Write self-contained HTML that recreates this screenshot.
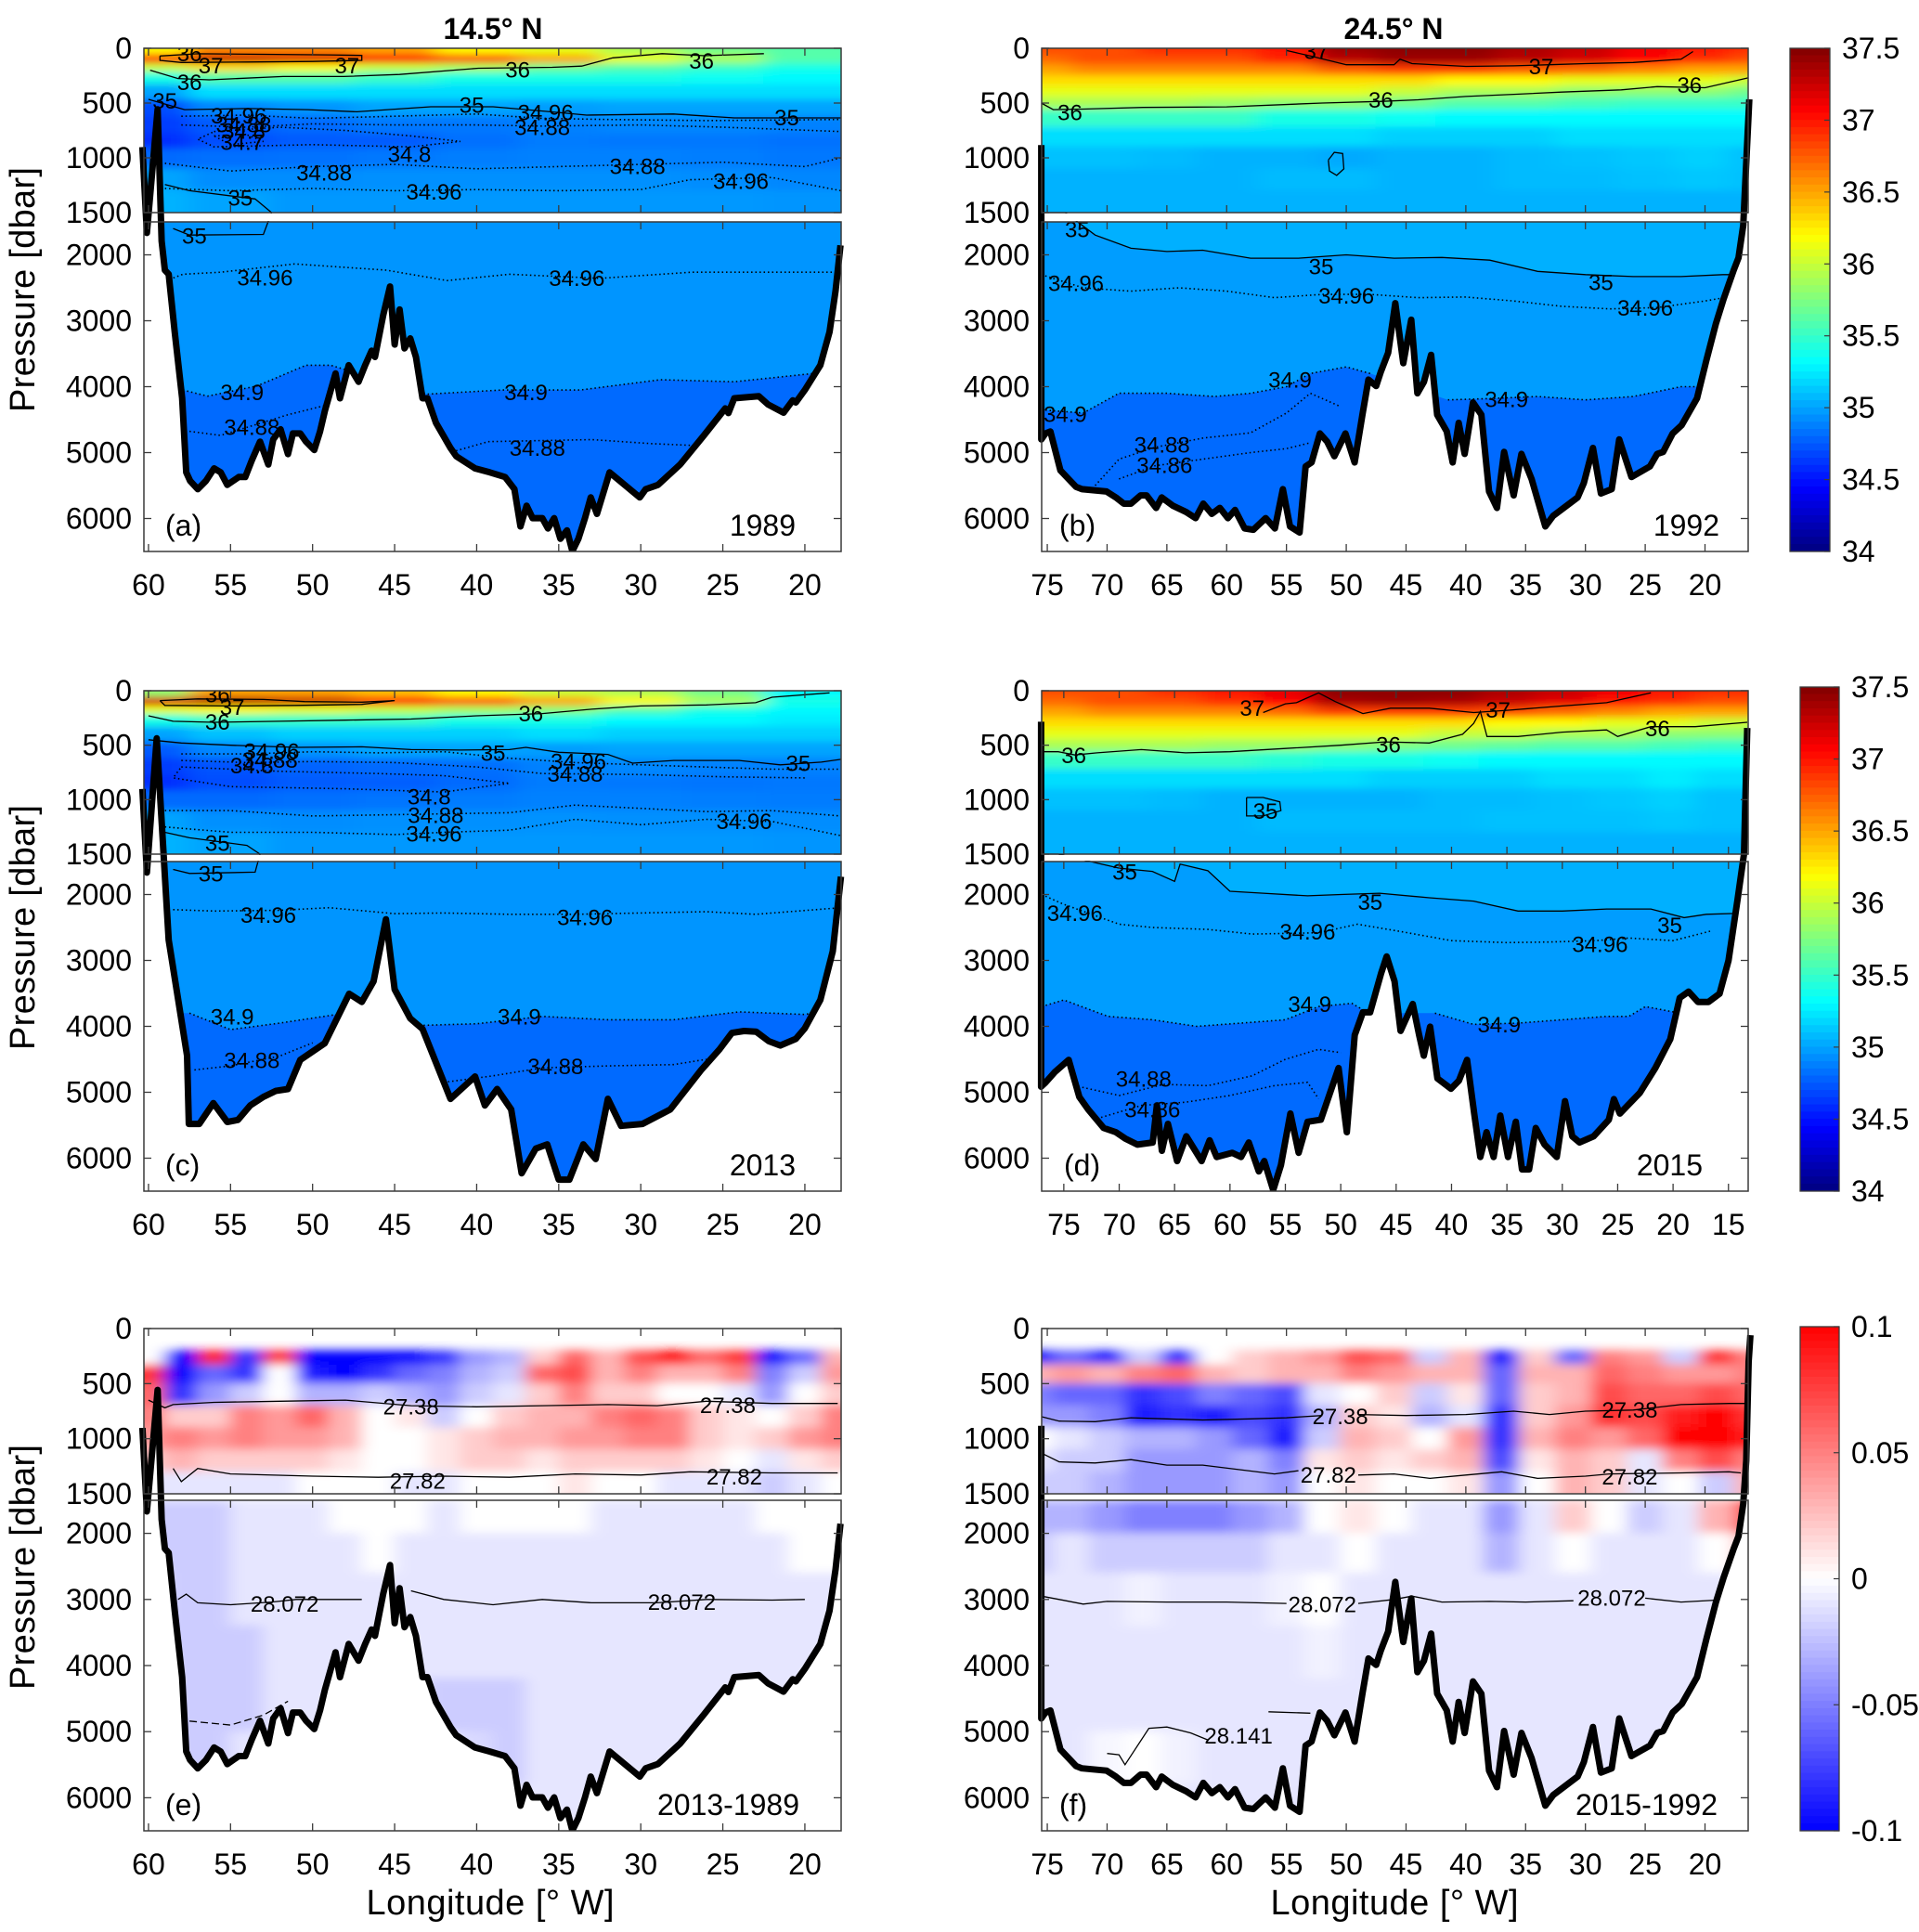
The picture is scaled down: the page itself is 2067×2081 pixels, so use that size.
<!DOCTYPE html>
<html><head><meta charset="utf-8">
<style>
html,body{margin:0;padding:0;background:#fff;}
svg{display:block;font-family:"Liberation Sans",Arial,sans-serif;}
</style></head>
<body>
<svg id="fig" xmlns="http://www.w3.org/2000/svg" width="2067" height="2081" viewBox="0 0 2067 2081">
<defs>
<filter id="blurS" x="-5%" y="-5%" width="110%" height="110%"><feGaussianBlur stdDeviation="12 4"/></filter>
<filter id="blurD" x="-5%" y="-5%" width="110%" height="110%"><feGaussianBlur stdDeviation="9 5"/></filter>
</defs>
<text x="531" y="42" font-size="32" font-weight="bold" text-anchor="middle">14.5° N</text>
<text x="1501" y="42" font-size="32" font-weight="bold" text-anchor="middle">24.5° N</text>
<text transform="translate(37,312) rotate(-90)" font-size="38" text-anchor="middle" textLength="264">Pressure [dbar]</text>
<text transform="translate(37,999) rotate(-90)" font-size="38" text-anchor="middle" textLength="264">Pressure [dbar]</text>
<text transform="translate(37,1688) rotate(-90)" font-size="38" text-anchor="middle" textLength="264">Pressure [dbar]</text>
<text x="528" y="2062" font-size="38" text-anchor="middle" textLength="267">Longitude [° W]</text>
<text x="1502" y="2062" font-size="38" text-anchor="middle" textLength="267">Longitude [° W]</text>
</svg>
<script>
// ---------------- DATA ----------------
const bathyA=[[60.37,902],[60.1,1668],[59.44,557],[59.2,1790],[59.0,2232],[58.77,2295],[58.4,3170],[57.95,4175],[57.7,5300],[57.46,5430],[57.0,5555],[56.5,5430],[56.0,5240],[55.6,5300],[55.2,5490],[54.5,5370],[54.1,5370],[53.7,5116],[53.2,4834],[52.7,5180],[52.4,4800],[51.95,4646],[51.5,5022],[51.2,4710],[50.75,4710],[50.4,4834],[49.9,4960],[49.55,4680],[49.25,4364],[48.6,3800],[48.33,4176],[47.8,3674],[47.2,3925],[46.8,3674],[46.4,3455],[46.2,3550],[45.7,2920],[45.28,2480],[45.0,3360],[44.7,2830],[44.4,3420],[44.05,3267],[43.7,3550],[43.3,4176],[43.0,4176],[42.48,4550],[41.6,4930],[41.25,5055],[40.1,5240],[39.2,5300],[38.27,5370],[37.7,5555],[37.33,6120],[36.96,5805],[36.59,5994],[36.0,5994],[35.66,6150],[35.28,5994],[34.9,6307],[34.5,6180],[34.17,6496],[33.8,6307],[33.4,5994],[33.05,5680],[32.67,5930],[31.9,5300],[30.06,5680],[29.7,5555],[28.95,5490],[27.6,5180],[26.15,4740],[24.85,4330],[24.66,4400],[24.3,4176],[22.8,4145],[22.24,4270],[21.3,4395],[20.74,4207],[20.55,4240],[20.0,4050],[19.06,3674],[18.5,3170],[18.13,2545],[17.83,1855]];
const bathyC=[[60.37,902],[60.1,1668],[59.5,437],[58.77,2690],[57.65,4445],[57.54,5480],[56.9,5480],[56.05,5165],[55.2,5450],[54.55,5420],[53.8,5200],[53.0,5070],[52.25,4980],[51.5,4950],[50.75,4510],[49.26,4257],[47.77,3505],[47.0,3630],[46.28,3317],[45.53,2376],[45.0,3440],[44.05,3880],[43.3,4040],[41.6,5100],[40.1,4760],[39.5,5200],[38.75,4950],[37.9,5260],[37.26,6230],[36.4,5855],[35.7,5790],[35.0,6326],[34.35,6326],[33.5,5790],[32.75,6013],[32.0,5100],[31.2,5510],[29.9,5480],[28.2,5260],[26.33,4665],[25.2,4350],[24.45,4100],[23.7,4070],[22.97,4080],[22.2,4225],[21.5,4290],[20.55,4190],[20.0,4030],[19.06,3600],[18.3,2860],[17.8,1730]];
const bathyB=[[75.5,883],[75.5,4800],[75.15,4710],[74.74,4680],[73.9,5270],[72.6,5520],[72.1,5555],[70.04,5590],[69.27,5680],[68.6,5775],[68.0,5775],[67.2,5650],[66.7,5650],[65.9,5840],[65.43,5680],[64.5,5805],[63.4,5900],[62.6,5994],[61.95,5775],[61.24,5930],[60.57,5840],[59.9,5994],[59.3,5870],[58.5,6150],[57.76,6170],[56.74,5994],[55.97,6150],[55.3,5555],[54.7,6120],[53.9,6213],[53.4,5210],[52.9,5150],[52.2,4710],[51.6,4834],[50.99,5055],[50.07,4710],[49.3,5150],[48.65,4426],[48.14,3893],[47.5,3990],[47.1,3770],[46.5,3486],[45.9,2734],[45.23,3643],[44.56,2985],[44.05,4100],[43.5,3925],[42.9,3517],[42.4,4426],[41.6,4677],[41.1,5150],[40.6,4550],[40.1,5020],[39.4,4240],[38.7,4426],[38.06,5590],[37.4,5840],[36.8,4990],[36.0,5650],[35.35,5020],[34.5,5400],[33.35,6120],[32.7,5960],[30.65,5680],[30.13,5460],[29.37,4930],[28.7,5620],[27.8,5555],[27.17,4800],[26.15,5370],[24.6,5210],[24.0,5020],[23.5,4990],[22.7,4710],[21.95,4583],[20.67,4176],[19.9,3610],[19.1,3050],[18.45,2670],[17.6,2232],[17.2,2044],[16.8,1550],[16.3,466]];
const bathyD=[[77.05,285],[77.05,4915],[76.66,4853],[75.83,4696],[74.56,4508],[73.6,5072],[72.8,5260],[71.4,5542],[70.3,5605],[69.47,5700],[68.36,5794],[66.98,5762],[66.6,5198],[66.15,5887],[65.6,5480],[64.77,6044],[63.94,5668],[62.56,6044],[61.84,5730],[61.2,5981],[59.8,5919],[59.0,5981],[58.3,5762],[57.4,6200],[56.9,6044],[56.1,6483],[55.4,6107],[54.55,5323],[53.8,5919],[53.0,5448],[51.8,5417],[50.2,4633],[49.45,5605],[48.74,4132],[48.0,3787],[47.35,3787],[46.35,3191],[45.86,2940],[45.14,3317],[44.6,4069],[43.5,3661],[42.92,4132],[42.5,4445],[41.93,4006],[41.27,4790],[40.05,4947],[39.33,4822],[38.6,4508],[37.95,5323],[37.4,5981],[36.84,5605],[36.2,5981],[35.6,5354],[34.9,5981],[34.2,5448],[33.64,6170],[33.0,6170],[32.4,5542],[31.6,5793],[30.5,5981],[29.76,5135],[29.1,5668],[28.44,5762],[27.17,5668],[25.8,5417],[25.34,5104],[24.8,5323],[23.0,5010],[21.6,4633],[20.25,4194],[19.4,3567],[18.6,3473],[17.75,3630],[16.8,3630],[15.8,3504],[15.0,3003],[14.17,2063],[13.6,1500],[13.3,342]];
const bathyF=bathyB.slice(0,-1).concat([[16.55,1200],[16.35,300],[16.2,60]]);

const gridLonA=[60,55,50,45,40,35,30,25,20];
const gridEdgeA=[0,60,140,220,330,470,620,780,920,1100,1300,1500];
const salA=[
[36.2,36.6,36.6,36.5,36.2,36.1,35.9,35.7,35.6],
[37.0,37.25,37.2,37.05,36.8,36.5,36.1,35.9,35.6],
[36.0,36.3,36.2,36.0,35.9,35.7,35.6,35.5,35.4],
[35.4,35.6,35.6,35.5,35.4,35.4,35.4,35.35,35.3],
[35.0,35.2,35.2,35.2,35.2,35.2,35.2,35.2,35.2],
[34.7,34.9,34.95,35.0,35.0,34.98,35.0,35.0,35.0],
[34.65,34.75,34.8,34.85,34.85,34.88,34.9,34.9,34.88],
[34.6,34.7,34.75,34.75,34.82,34.86,34.85,34.85,34.83],
[34.8,34.82,34.83,34.85,34.87,34.88,34.88,34.87,34.85],
[35.0,34.92,34.92,34.93,34.93,34.93,34.93,34.92,34.9],
[35.05,35.0,34.96,34.96,34.96,34.96,34.96,34.96,34.95]];
const salC=[
[35.8,36.5,36.5,36.4,36.2,36.0,35.9,35.7,35.3],
[37.2,37.35,37.25,37.05,36.8,36.5,36.2,35.9,35.4],
[36.1,36.2,36.1,36.0,35.9,35.8,35.6,35.4,35.3],
[35.4,35.5,35.5,35.5,35.4,35.4,35.3,35.3,35.25],
[35.0,35.1,35.15,35.15,35.15,35.2,35.15,35.15,35.15],
[34.75,34.9,34.95,35.0,35.0,34.98,35.0,35.0,35.0],
[34.65,34.72,34.78,34.8,34.82,34.88,34.9,34.88,34.88],
[34.6,34.7,34.75,34.76,34.8,34.86,34.85,34.84,34.85],
[34.8,34.8,34.82,34.84,34.86,34.88,34.88,34.87,34.86],
[35.0,34.93,34.92,34.93,34.93,34.94,34.93,34.93,34.92],
[35.05,35.0,34.96,34.96,34.96,34.96,34.96,34.96,34.95]];
const gridLonB=[76,70,65,60,55,50,45,40,35,30,25,20,16];
const gridEdgeB=[0,60,150,250,350,450,560,720,900,1100,1300,1500];
const salB=[
[36.8,36.8,36.9,36.9,37.0,37.4,37.45,37.45,37.35,37.25,37.1,37.0,36.9],
[36.7,36.8,36.8,36.8,36.95,37.3,37.4,37.4,37.3,37.2,37.05,36.9,36.8],
[36.5,36.6,36.6,36.6,36.6,36.75,36.85,36.85,36.75,36.7,36.6,36.5,36.5],
[36.3,36.3,36.3,36.3,36.3,36.3,36.3,36.2,36.2,36.1,36.1,36.1,36.0],
[36.1,36.1,36.1,36.1,36.1,36.1,36.0,35.9,35.9,35.8,35.8,35.8,35.7],
[35.9,35.9,35.9,35.85,35.8,35.8,35.7,35.6,35.6,35.55,35.5,35.5,35.5],
[35.5,35.5,35.5,35.5,35.4,35.4,35.35,35.3,35.3,35.3,35.3,35.3,35.3],
[35.2,35.2,35.2,35.2,35.2,35.2,35.15,35.15,35.15,35.2,35.2,35.2,35.2],
[35.1,35.1,35.08,35.05,35.05,35.02,35.05,35.05,35.08,35.1,35.12,35.15,35.1],
[35.05,35.05,35.05,35.05,35.08,35.08,35.05,35.05,35.08,35.08,35.1,35.12,35.1],
[35.05,35.05,35.05,35.05,35.05,35.05,35.05,35.05,35.05,35.05,35.05,35.05,35.05]];
const salD=[
[36.8,36.8,36.9,37.0,37.15,37.45,37.45,37.45,37.35,37.25,37.1,37.0,36.9],
[36.7,36.8,36.8,36.9,37.05,37.35,37.4,37.35,37.25,37.15,37.0,36.9,36.8],
[36.5,36.6,36.6,36.6,36.7,36.85,36.85,36.85,36.8,36.7,36.6,36.5,36.5],
[36.3,36.3,36.3,36.3,36.3,36.3,36.3,36.3,36.2,36.2,36.1,36.1,36.0],
[36.1,36.1,36.1,36.1,36.1,36.1,36.1,36.0,36.0,35.9,35.9,35.8,35.8],
[35.9,35.9,35.9,35.85,35.85,35.8,35.75,35.7,35.65,35.6,35.6,35.55,35.5],
[35.5,35.5,35.5,35.5,35.45,35.4,35.4,35.35,35.3,35.3,35.3,35.3,35.3],
[35.2,35.2,35.2,35.2,35.2,35.2,35.15,35.15,35.15,35.2,35.2,35.25,35.2],
[35.1,35.1,35.08,35.05,35.05,35.05,35.05,35.08,35.08,35.1,35.12,35.15,35.1],
[35.05,35.05,35.05,35.05,35.08,35.08,35.08,35.08,35.1,35.1,35.1,35.12,35.1],
[35.05,35.05,35.05,35.05,35.05,35.05,35.05,35.05,35.05,35.05,35.05,35.05,35.05]];

const diffLonE=[60,58,56,54,52,50,48,46,44,42,40,38,36,34,32,30,28,26,24,22,20,18];
const diffEdgeUp=[200,330,500,700,900,1100,1300,1500];
const diffUpE=[
[0.0,-0.1,0.09,-0.08,0.08,-0.1,-0.1,-0.1,-0.1,-0.08,-0.04,-0.03,0.02,0.06,0.03,0.07,0.1,0.06,0.08,-0.1,-0.06,0.03],
[0.08,-0.1,-0.06,-0.08,0.0,-0.09,-0.1,-0.08,-0.06,-0.05,-0.03,-0.02,0.06,0.07,0.03,0.05,0.03,0.03,0.05,-0.05,-0.02,0.04],
[0.06,-0.08,-0.04,-0.02,0.0,-0.03,-0.03,-0.02,-0.03,-0.04,-0.02,-0.01,0.02,0.05,0.02,0.02,0.0,0.0,-0.01,-0.04,0.0,0.02],
[0.05,0.02,0.02,0.05,0.04,0.06,0.03,0.0,0.01,-0.02,0.0,0.02,0.03,0.03,0.05,0.06,0.05,0.02,0.01,0.0,0.02,0.05],
[0.04,0.05,0.04,0.05,0.04,0.04,0.03,0.0,0.0,0.01,0.02,0.03,0.03,0.04,0.04,0.05,0.05,0.02,0.01,0.02,0.04,0.05],
[0.02,0.03,0.02,0.02,0.02,0.02,0.01,0.0,0.0,0.01,0.02,0.02,0.01,0.02,0.02,0.02,0.02,0.01,0.0,-0.01,0.01,0.02],
[-0.01,-0.01,-0.01,-0.01,-0.01,0.0,0.0,0.0,-0.01,-0.01,0.0,0.0,0.0,0.01,0.0,0.0,-0.01,-0.01,-0.01,-0.02,-0.01,0.0]];
const diffEdgeLo=[1500,2000,2600,3400,4200,5000,5800,6500];
const diffLoE=[
[-0.02,-0.02,-0.02,-0.01,-0.01,-0.01,0,0,0,-0.01,0,0,0,0,-0.01,-0.01,-0.01,-0.01,-0.01,0,0,0],
[-0.02,-0.02,-0.02,-0.01,-0.01,-0.01,-0.01,0,-0.01,-0.01,-0.01,-0.01,-0.01,-0.01,-0.01,-0.01,-0.01,-0.01,-0.01,-0.01,0,0],
[-0.01,-0.02,-0.02,-0.01,-0.01,-0.01,-0.01,-0.01,-0.01,-0.01,-0.01,-0.01,-0.01,-0.01,-0.01,-0.01,-0.01,-0.01,-0.01,-0.01,-0.01,-0.01],
[-0.01,-0.02,-0.02,-0.02,-0.01,-0.01,-0.01,-0.01,-0.01,-0.01,-0.01,-0.01,-0.01,-0.01,-0.01,-0.01,-0.01,-0.01,-0.01,-0.01,-0.01,-0.01],
[-0.01,-0.02,-0.02,-0.02,-0.01,-0.01,-0.01,-0.01,-0.015,-0.02,-0.02,-0.02,-0.01,-0.01,-0.01,-0.01,-0.01,-0.01,-0.01,-0.01,-0.01,-0.01],
[-0.01,-0.02,-0.02,-0.01,-0.01,-0.01,-0.01,-0.01,-0.01,-0.01,-0.015,-0.02,-0.01,-0.01,-0.01,-0.01,-0.01,-0.01,-0.01,-0.01,-0.01,-0.01],
[-0.01,-0.01,-0.01,-0.01,-0.01,-0.01,-0.01,-0.01,-0.01,-0.01,-0.01,-0.01,-0.01,-0.01,-0.01,-0.01,-0.01,-0.01,-0.01,-0.01,-0.01,-0.01]];
const diffLonF=[76,73,70,67,64,61,58,55,52,49,46,43,40,37,34,31,28,25,22,19,16];
const diffUpF=[
[-0.1,-0.06,-0.09,-0.02,-0.08,0.0,0.02,0.03,0.04,0.07,0.06,-0.02,0.03,-0.09,0.02,-0.06,0.05,0.04,-0.02,0.08,0.05],
[0.03,0.04,0.03,0.05,0.06,0.03,0.02,0.03,0.03,0.05,0.04,0.03,0.03,-0.06,0.03,0.03,0.06,0.05,0.04,0.04,0.05],
[-0.05,-0.06,-0.06,-0.08,-0.07,-0.05,-0.06,-0.07,-0.01,0.0,0.02,-0.02,0.01,-0.06,0.02,0.03,0.07,0.06,0.06,0.07,0.06],
[-0.04,-0.04,-0.05,-0.09,-0.08,-0.09,-0.07,-0.08,-0.03,0.02,0.01,-0.03,-0.01,-0.08,0.02,0.04,0.08,0.07,0.09,0.1,0.08],
[0.0,-0.01,-0.02,-0.03,-0.03,-0.04,-0.06,-0.09,-0.02,0.03,0.02,0.0,0.04,-0.08,0.03,0.05,0.04,0.06,0.1,0.1,0.09],
[-0.01,-0.02,-0.02,-0.04,-0.04,-0.04,-0.03,-0.05,0.01,0.02,0.01,0.02,0.03,-0.07,0.01,0.03,0.02,-0.01,0.05,0.07,0.05],
[-0.02,-0.02,-0.03,-0.04,-0.04,-0.04,-0.03,-0.04,0.0,0.01,0.0,0.0,0.01,-0.04,0.0,0.03,0.02,-0.01,0.0,-0.02,0.03]];
const diffLoF=[
[-0.03,-0.03,-0.04,-0.05,-0.05,-0.05,-0.04,-0.03,0.0,0.01,0.0,-0.01,-0.01,-0.04,-0.01,0.02,0.0,-0.02,-0.01,0.03,0.07],
[-0.02,-0.01,-0.02,-0.02,-0.02,-0.02,-0.02,-0.01,-0.01,0.0,-0.01,-0.01,-0.01,-0.03,-0.01,0.0,-0.01,-0.01,-0.01,0.0,0.03],
[-0.01,-0.01,-0.01,-0.005,-0.01,-0.01,-0.01,-0.005,0,-0.01,-0.01,-0.01,-0.01,-0.01,-0.01,-0.01,-0.01,-0.01,-0.01,-0.01,-0.01],
[-0.01,-0.01,-0.01,-0.01,-0.01,-0.01,-0.01,-0.01,-0.005,-0.01,-0.01,-0.01,-0.01,-0.01,-0.01,-0.01,-0.01,-0.01,-0.01,-0.01,-0.01],
[-0.01,-0.01,-0.01,-0.01,-0.01,-0.01,-0.01,-0.01,-0.01,-0.01,-0.01,-0.01,-0.01,-0.01,-0.01,-0.01,-0.01,-0.01,-0.01,-0.01,-0.01],
[-0.01,-0.01,-0.003,0.0,-0.005,-0.01,-0.01,-0.01,-0.01,-0.01,-0.01,-0.01,-0.01,-0.01,-0.01,-0.01,-0.01,-0.01,-0.01,-0.01,-0.01],
[-0.01,-0.01,-0.01,-0.01,-0.01,-0.01,-0.01,-0.01,-0.01,-0.01,-0.01,-0.01,-0.01,-0.01,-0.01,-0.01,-0.01,-0.01,-0.01,-0.01,-0.01]];

const contA=[
{v:'37',dot:0,pts:[[59.3,70],[57,50],[53,55],[49,60],[47,65],[47,110],[50,120],[54,125],[58,130],[59.3,110],[59.3,70]],lab:[[56.2,163],[47.9,163]]},
{v:'36',dot:0,pts:[[59.9,200],[58.2,276],[56.3,288],[51.8,258],[48.1,258],[44.7,239],[39.9,182],[35.4,174],[33.6,163],[31.7,87],[28.7,49],[26.1,68],[22.5,49]],lab:[[57.5,315],[37.5,200],[57.5,50],[26.3,120]]},
{v:'35',dot:0,pts:[[60,466],[57.8,560],[54,550],[50.3,560],[47.3,580],[42.8,534],[39,534],[35.5,580],[33.3,610],[28,600],[24.3,636],[17.8,636]],lab:[[40.3,523],[21.1,636],[59,485]]},
{v:'34.96',dot:1,pts:[[58,620],[54,610],[50,640],[45,620],[40,600],[36,640],[32,650],[26,660],[17.8,650]],lab:[[35.8,590],[54.5,620]]},
{v:'34.88',dot:1,pts:[[58,700],[54,720],[50,690],[45,700],[40,700],[36,710],[30,700],[25,720],[17.8,760]],lab:[[36,725],[54.2,700]]},
{v:'34.8',dot:1,pts:[[56,760],[52,720],[48,750],[44,800],[41,850],[44,900],[50,880],[56,900],[57,830],[56,760]],lab:[[44.1,970],[54.2,760]]},
{v:'34.7',dot:1,pts:[[56,800],[54,790],[53,850],[55,880],[56,800]],lab:[[54.3,860]]},
{v:'34.88',dot:1,pts:[[59,1050],[55,1120],[50,1080],[45,1060],[40,1100],[35,1080],[30,1060],[25,1040],[20,1080],[17.8,1000]],lab:[[49.3,1140],[30.2,1080]]},
{v:'34.96',dot:1,pts:[[59,1280],[55,1300],[50,1280],[45,1300],[40,1290],[35,1300],[30,1290],[27,1200],[22,1180],[17.8,1300]],lab:[[42.6,1315],[23.9,1215]]},
{v:'35',dot:0,pts:[[59,1243],[57.5,1300],[53.5,1375],[52.5,1500]],lab:[[54.4,1370]]},
{v:'35',dot:0,pts:[[58.5,1600],[57.5,1700],[53,1690],[52.5,1500]],lab:[[57.2,1720]]},
{v:'34.96',dot:1,pts:[[59.2,2420],[57.9,2295],[55.6,2263],[51.1,2138],[45.5,2232],[41.8,2390],[38,2295],[32.5,2357],[26.9,2263],[17.8,2263]],lab:[[52.9,2350],[33.9,2360]]},
{v:'34.9',dot:1,fill:34.8,pts:[[57.9,4050],[56.4,4144],[53.4,3990],[50.4,3674],[48.9,3674],[43,4113],[38.5,4050],[33.7,4050],[28.8,3894],[24.3,3925],[19.5,3800],[17.8,3750]],lab:[[54.3,4090],[37,4090]]},
{v:'34.88',dot:1,pts:[[57.5,4677],[55.6,4740],[51.5,4426],[49,4270],null,[41.5,4990],[39.3,4834],[33,4803],[29.3,4865],[26,4900]],lab:[[53.7,4620],[36.3,4940]]}];
const contC=[
{v:'37',dot:0,pts:[[59.3,90],[57,75],[53,80],[50.5,100],[47,105],[45,90],[47,125],[51,135],[55,140],[59,135],[59.3,90]],lab:[[54.9,152]]},
{v:'36',dot:0,pts:[[60,230],[58.5,280],[56,290],[52,280],[48,270],[44,260],[40,230],[36,210],[33,170],[30,140],[26,130],[23,110],[22,60],[18.5,20]],lab:[[55.8,290],[36.7,212],[55.8,40]]},
{v:'35',dot:0,pts:[[60,450],[58,480],[55,500],[51,520],[47,515],[44,540],[41,545],[38,540],[37,520],[35,565],[32,585],[30.5,665],[28,640],[24,640],[21.5,680],[19,655],[17.8,630]],lab:[[39,575],[20.4,670]]},
{v:'34.96',dot:1,pts:[[58,580],[54,580],[50,560],[46,570],[42,560],[38,620],[34,660],[28,690],[22,720],[17.8,720]],lab:[[33.8,650],[52.5,560]]},
{v:'34.88',dot:1,pts:[[58,640],[54,660],[50,650],[45,660],[40,700],[36,760],[30,770],[25,790],[20,800]],lab:[[34,765],[52.6,640]]},
{v:'34.8',dot:1,pts:[[58,700],[52,740],[46,760],[42,780],[38,850],[42,930],[48,900],[55,880],[58.5,800],[58,700]],lab:[[42.9,975],[53.7,690]]},
{v:'34.88',dot:1,pts:[[59,1100],[55,1100],[50,1150],[46,1140],[42,1130],[38,1120],[34,1050],[30,1080],[26,1110],[22,1100],[17.8,1150]],lab:[[42.5,1145]]},
{v:'34.96',dot:1,pts:[[59,1250],[55,1300],[50,1300],[45,1320],[42,1300],[38,1280],[34,1180],[30,1230],[26,1180],[22,1200],[17.8,1330]],lab:[[42.6,1315],[23.7,1200]]},
{v:'35',dot:0,pts:[[59,1300],[57.5,1350],[54,1420],[53.2,1500]],lab:[[55.8,1400]]},
{v:'35',dot:0,pts:[[58.5,1620],[57.5,1680],[53.5,1660],[53.2,1500]],lab:[[56.2,1690]]},
{v:'34.96',dot:1,pts:[[58.5,2230],[56,2250],[52,2240],[49,2200],[45,2290],[42,2280],[38,2300],[34,2300],[30,2280],[26,2260],[23,2300],[17.8,2200]],lab:[[52.7,2320],[33.4,2350]]},
{v:'34.9',dot:1,fill:34.8,pts:[[57.5,3800],[55,4050],[52,3950],[48,3800],[46.5,3700],null,[44,3990],[40,3960],[36,3850],[32,3900],[28,3900],[24,3780],[20,3820],[18.5,3750]],lab:[[54.9,3860],[37.4,3860]]},
{v:'34.88',dot:1,pts:[[57.2,4660],[55,4600],[52,4450],[50,4250],null,[42,4850],[39,4750],[36,4630],[32,4600],[28,4580],[26,4500]],lab:[[53.7,4520],[35.2,4610]]}];
const contB=[
{v:'37',dot:0,pts:[[55,20],[53,70],[50,150],[46,150],[45.5,100],[44.5,140],[40,165],[36,160],[33,150],[30,140],[26,130],[22,100],[21,30]],lab:[[33.7,170],[52.5,30]]},
{v:'36',dot:0,pts:[[75.5,500],[74.5,560],[72,555],[67,540],[60,535],[52,500],[47,485],[44,470],[40,440],[36,420],[32,400],[27,380],[24,350],[20,360],[16.4,270]],lab:[[73.1,590],[47.1,475],[21.3,340]]},
{v:'35',dot:0,pts:[[51.5,1020],[51,950],[50.3,960],[50.2,1100],[50.8,1160],[51.4,1120],[51.5,1020]],lab:[]},
{v:'35',dot:0,fill:34.975,pts:[[76,1500],[73.5,1500],[71,1700],[68,1900],[65,1950],[62,1930],[58,2050],[54,2050],[50,2000],[46,2050],[42,2040],[38,2080],[34,2250],[30,2300],[26,2330],[22,2330],[18.5,2300],[16,2300]],lab:[[52.1,2180],[28.7,2420],[72.5,1620]]},
{v:'34.96',dot:1,pts:[[75.5,2300],[72,2500],[68,2550],[64,2500],[60,2550],[56,2650],[52,2600],[48,2600],[44,2650],[40,2640],[36,2700],[32,2780],[28,2820],[24,2800],[20,2700],[18.4,2650]],lab:[[72.6,2440],[50,2630],[25,2810]]},
{v:'34.9',dot:1,fill:34.8,pts:[[75.5,4350],[72,4400],[69,4100],[65,4100],[61,4150],[58,4100],[55,4000],[53,3800],[50,3700],[48,3800],null,[41.5,4200],[38,4180],[34,4150],[30,4200],[26,4150],[22,4000],[20.5,4000],[16,4000]],lab:[[54.7,3900],[36.6,4200],[73.5,4420]]},
{v:'34.88',dot:1,pts:[[71,5500],[69,5100],[66,4920],[62,4780],[58,4700],[55,4400],[53,4100],[50.5,4300]],lab:[[65.4,4890]]},
{v:'34.86',dot:1,pts:[[69,5400],[66,5200],[62,5100],[58,5000],[55,4940],[53,4850]],lab:[[65.2,5200]]}];
const contD=[
{v:'37',dot:0,pts:[[57,200],[55,120],[54,110],[52,20],[50.5,100],[48,210],[45.5,160],[42,160],[38,200],[35,180],[30,140],[26,110],[22,20]],lab:[[58,160],[35.8,180]]},
{v:'36',dot:0,pts:[[77,560],[75.5,560],[74,590],[72,570],[68,540],[64,570],[60,560],[55,530],[50,500],[46,470],[42,480],[39,400],[38,300],[37.4,190],[36.8,420],[34,420],[30,380],[26,360],[25,420],[22,330],[18,330],[13.3,290]],lab:[[74.1,595],[45.7,500],[21.4,350]]},
{v:'35',dot:0,pts:[[58.5,980],[57,980],[55.5,1020],[55.4,1100],[57,1150],[58.5,1150],[58.5,980]],lab:[[56.8,1110]]},
{v:'35',dot:0,fill:34.975,pts:[[78,1500],[75.5,1500],[70,1600],[67,1650],[65,1800],[64.5,1540],[62,1640],[60,1950],[57,1980],[53,2020],[50,2000],[46.5,1980],[42,2050],[38,2100],[34,2250],[30,2250],[26,2220],[22,2220],[19,2350],[17,2300],[13,2280]],lab:[[47.35,2120],[20.3,2470],[69.5,1660]]},
{v:'34.96',dot:1,pts:[[77,2000],[75,2150],[72.5,2300],[70,2450],[67,2500],[62,2530],[58,2600],[52,2580],[48.5,2450],[45,2550],[40,2700],[35,2730],[31,2720],[27,2700],[24,2660],[20,2700],[16.5,2550]],lab:[[74,2290],[53,2570],[26.6,2760]]},
{v:'34.9',dot:1,fill:34.8,pts:[[77,3700],[75,3600],[71,3850],[67,3900],[63,4000],[59,3950],[55,3900],[52,3700],[49,3650],[47.5,3800],null,[41.5,3800],[38,3970],[34,3950],[30,3900],[26,3850],[24,3850],[22.5,3700],[20,3780],[13,3780]],lab:[[52.8,3670],[35.7,3980]]},
{v:'34.88',dot:1,pts:[[76,4700],[74,4900],[70,5050],[66,4880],[62,4900],[58,4750],[55,4500],[52,4350],[50,4400]],lab:[[67.8,4800]]},
{v:'34.86',dot:1,pts:[[72,5400],[68,5200],[64,5150],[60,5050],[56,4900],[53,4850],[52,5100]],lab:[[67,5270]]}];
const contE=[
{v:'27.38',dot:0,pts:[[60,650],[59,720],[58.5,690],[56,670],[52,660],[48,650],[44,700],[40,710],[36,700],[32,690],[29,700],[26,660],[22,680],[18,680]],lab:[[44,710],[24.7,700]]},
{v:'27.82',dot:0,pts:[[58.5,1270],[58,1390],[57,1270],[55,1320],[50,1340],[46,1350],[42,1340],[38,1350],[34,1320],[30,1330],[27,1300],[22,1310],[18,1310]],lab:[[43.6,1385],[24.3,1350]]},
{v:'28.072',dot:0,pts:[[58.2,3000],[57.7,2920],[57,3050],[55,3080],[52.5,3040],[51,3000],[47,3000],null,[44,2870],[42,3000],[39,3080],[36,3000],[33,3050],[29,3050],[26,3000],[22,3010],[20,3000]],lab:[[51.7,3075],[27.5,3045]]},
{v:'',dot:2,pts:[[57.5,4840],[55,4900],[53,4750],[51.5,4540]],lab:[]}];
const contF=[
{v:'27.38',dot:0,pts:[[75.5,800],[74,840],[71,845],[68,810],[65,820],[62,830],[58,820],[55,810],[52,790],null,[49,780],[45,790],[40,780],[36,750],[33,780],[30,750],[26,740],[22,690],[18,680],[16.4,680]],lab:[[50.5,800],[26.3,740]]},
{v:'27.82',dot:0,pts:[[75.5,1130],[74,1210],[71,1220],[68,1190],[65,1240],[62,1240],[59,1280],[56,1320],[54,1290],null,[49,1330],[46,1320],[43,1360],[40,1330],[37,1300],[34,1360],[30,1340],[28,1320],[22,1310],[18,1300],[17,1310]],lab:[[51.5,1330],[26.3,1350]]},
{v:'28.072',dot:0,pts:[[75.5,2950],[74,3000],[72,3070],[70,3030],[65,3040],[60,3040],[55,3060],null,[49,3060],[46,3000],[44.5,2950],[42,3040],[38,3030],[35,3040],[31,3020],null,[25,2980],[22,3040],[19,3010]],lab:[[52,3080],[27.8,2980]]},
{v:'28.141',dot:0,pts:[[70,5330],[69,5350],[68.5,5500],[66.5,4950],[65,4930],[63,5020],[61.5,5130],null,[56.5,4700],[53,4720]],lab:[[59,5070]]}];

const xtA=[60,55,50,45,40,35,30,25,20];
const xtB=[75,70,65,60,55,50,45,40,35,30,25,20];
const xtD=[75,70,65,60,55,50,45,40,35,30,25,20,15];
const ytUp=[0,500,1000,1500];
const ytLo=[2000,3000,4000,5000,6000];
const cbSalTicks=[34,34.5,35,35.5,36,36.5,37,37.5];
const cbSalLabels=['34','34.5','35','35.5','36','36.5','37','37.5'];
const cbDiffTicks=[-0.1,-0.05,0,0.05,0.1];
const cbDiffLabels=['-0.1','-0.05','0','0.05','0.1'];

// ---------------- DRAWING ----------------
const NS='http://www.w3.org/2000/svg';
const svg=document.getElementById('fig');
function el(tag,attrs,parent){const e=document.createElementNS(NS,tag);for(const k in attrs)e.setAttribute(k,attrs[k]);(parent||svg).appendChild(e);return e;}
function cl(v){return Math.max(0,Math.min(1,v));}
function jet(s){const t=(s-34)/3.5;const r=cl(Math.min(4*t-1.5,-4*t+4.5)),g=cl(Math.min(4*t-0.5,-4*t+3.5)),b=cl(Math.min(4*t+0.5,-4*t+2.5));return 'rgb('+Math.round(r*255)+','+Math.round(g*255)+','+Math.round(b*255)+')';}
function bwr(v){const t=Math.max(-1,Math.min(1,v/0.1));let r,g,b;if(t<0){r=g=1+t;b=1;}else{r=1;g=b=1-t;}return 'rgb('+Math.round(r*255)+','+Math.round(g*255)+','+Math.round(b*255)+')';}

let clipId=0;
function panel(cfg){
  const {xL,xR,lonL,lonR,top,upB,loT,bot,name}=cfg;
  const X=lon=>xL+(lonL-lon)/(lonL-lonR)*(xR-xL);
  const Yu=d=>top+d/1500*(upB-top);
  const Yl=d=>loT+(d-1500)/5000*(bot-loT);
  const Y=d=>d<=1500?Yu(d):Yl(d);
  const g=el('g',{});
  
  
  const cu='cu'+(clipId++), clo='cl'+(clipId++), ca='ca'+(clipId++);
  const defs=el('defs',{},g);
  el('rect',{x:xL,y:top,width:xR-xL,height:upB-top},el('clipPath',{id:cu},defs));
  el('rect',{x:xL,y:loT,width:xR-xL,height:bot-loT},el('clipPath',{id:clo},defs));
  el('rect',{x:xL-10,y:top,width:xR-xL+20,height:bot-top},el('clipPath',{id:ca},defs));
  function grid(lons,edges,vals,fn,Yf,clip,filt,ext){
    const gg=el('g',{'clip-path':'url(#'+clip+')'},g);
    const inner=el('g',{filter:'url(#'+filt+')'},gg);
    for(let r=0;r<vals.length;r++){
      let d0=edges[r],d1=edges[r+1];
      if(ext&&r===0)d0-=300; if(r===vals.length-1)d1+=400;
      for(let c=0;c<lons.length;c++){
        let l0=c===0?lons[0]+6:(lons[c-1]+lons[c])/2;
        let l1=c===lons.length-1?lons[c]-6:(lons[c]+lons[c+1])/2;
        const x0=X(l0),x1=X(l1),y0=Yf(d0),y1=Yf(d1);
        const rc=el('rect',{x:Math.min(x0,x1)-0.5,y:y0-0.5,width:Math.abs(x1-x0)+1,height:y1-y0+1,fill:fn(vals[r][c])},inner);
        
        
      }
    }
    return gg;
  }
  if(cfg.upGrid) grid(cfg.upLon,cfg.upEdge,cfg.upGrid,cfg.cmap,Yu,cu,cfg.filt,cfg.extTop);
  if(cfg.loGrid) grid(cfg.loLon,cfg.loEdge,cfg.loGrid,cfg.cmap,Yl,clo,cfg.filt,false);
  if(cfg.loBase!==undefined){
    const lg=el('g',{'clip-path':'url(#'+clo+')'},g);
    el('rect',{x:xL,y:loT,width:xR-xL,height:bot-loT,fill:jet(cfg.loBase)},lg);
    cfg.cont.forEach(c=>{ if(c.fill===undefined)return;
      const p=c.pts.filter(q=>q);
      let s='M'+X(lonL+2)+','+Y(Math.max(1500,p[0][1]));
      p.forEach(q=>{s+=' L'+X(q[0]).toFixed(1)+','+Y(Math.max(1500,q[1])).toFixed(1);});
      s+=' L'+X(lonR-2)+','+Y(Math.max(1500,p[p.length-1][1]))+' L'+X(lonR-2)+','+(bot+20)+' L'+X(lonL+2)+','+(bot+20)+'Z';
      const f=el('path',{d:s,fill:jet(c.fill)},lg);
      
      
    });
  }
  // contours (drawn before the seafloor mask so the mask hides sub-bottom parts)
  const cg=el('g',{'clip-path':'url(#'+ca+')'},g);
  cfg.cont.forEach(c=>{
    let s='',mv=true;
    c.pts.forEach(q=>{ if(!q){mv=true;return;} s+=(mv?' M':' L')+X(q[0]).toFixed(1)+','+Y(q[1]).toFixed(1); mv=false;});
    const ln=el('path',{d:s,fill:'none',stroke:'#000','stroke-width':c.dot===1?1.6:1.3,'stroke-dasharray':c.dot===1?'1.5 3':(c.dot===2?'8 4':'none')},cg);
    
    
    c.lab.forEach(L=>{
      const t=el('text',{x:X(L[0]).toFixed(1),y:(Y(L[1])+8).toFixed(1),'font-size':24,'text-anchor':'middle',fill:'#000'},cg);
      t.textContent=c.v;
      
      
    });
  });
  // bathymetry mask
  const b=cfg.bathy;
  let bs='M'+X(lonL+3)+','+Y(b[0][1]);
  b.forEach(q=>{bs+=' L'+X(q[0]).toFixed(1)+','+Y(q[1]).toFixed(1);});
  bs+=' L'+X(lonR-3)+','+Y(b[b.length-1][1])+' L'+X(lonR-3)+','+(bot+30)+' L'+X(lonL+3)+','+(bot+30)+'Z';
  const mg=el('g',{'clip-path':'url(#'+ca+')'},g);
  const mask=el('path',{d:bs,fill:'#fff'},mg);
  
  
  // gap between sub-axes
  el('rect',{x:xL-12,y:upB+1,width:xR-xL+24,height:loT-upB-2,fill:'#fff'},g);
  // bathymetry line
  let ls='';
  b.forEach((q,i)=>{ls+=(i?' L':'M')+X(q[0]).toFixed(1)+','+Y(q[1]).toFixed(1);});
  const bl=el('path',{d:ls,fill:'none',stroke:'#000','stroke-width':7,'stroke-linejoin':'round'},el('g',{'clip-path':'url(#'+ca+')'},g));
  
  
  [[top,upB],[loT,bot]].forEach(([a,z],k)=>{
    const bx=el('rect',{x:xL,y:a,width:xR-xL,height:z-a,fill:'none',stroke:'#3a3a3a','stroke-width':1.5},g);
    
    
  });
  cfg.xt.forEach(v=>{
    const x=X(v);
    el('line',{x1:x,y1:top,x2:x,y2:top+8,stroke:'#3a3a3a','stroke-width':1.3},g);
    el('line',{x1:x,y1:bot,x2:x,y2:bot-8,stroke:'#3a3a3a','stroke-width':1.3},g);
    el('line',{x1:x,y1:upB,x2:x,y2:upB-8,stroke:'#3a3a3a','stroke-width':1.3},g);
    el('line',{x1:x,y1:loT,x2:x,y2:loT+8,stroke:'#3a3a3a','stroke-width':1.3},g);
    const t=el('text',{x:x,y:bot+47,'font-size':32,'text-anchor':'middle'},g);
    t.textContent=v;
    
    
  });
  ytUp.concat(ytLo).forEach(v=>{
    const y=Y(v);
    el('line',{x1:xL,y1:y,x2:xL+8,y2:y,stroke:'#3a3a3a','stroke-width':1.3},g);
    el('line',{x1:xR,y1:y,x2:xR-8,y2:y,stroke:'#3a3a3a','stroke-width':1.3},g);
    const t=el('text',{x:xL-13,y:y+11,'font-size':32,'text-anchor':'end'},g);
    t.textContent=v;
    
    
  });
  const pl=el('text',{x:xL+cfg.plx,y:bot-17,'font-size':32},g);
  pl.textContent=cfg.tag;
  
  
  const yr=el('text',{x:cfg.yrx,y:bot-17,'font-size':32,'text-anchor':'end'},g);
  yr.textContent=cfg.year;
  
  
}

const L={xL:155,xR:906,lonL:60.28,lonR:17.79,xt:xtA,plx:23};
const R={xL:1122,xR:1883,lonL:75.47,lonR:16.39,xt:xtB,plx:19};
const RD={xL:1122,xR:1883,lonL:77.0,lonR:13.22,xt:xtD,plx:24};
const row1={top:52,upB:229,loT:239,bot:594}, row2={top:744,upB:920,loT:928,bot:1283}, row3={top:1431,upB:1609,loT:1616,bot:1972};
panel(Object.assign({},L,row1,{name:'a',tag:'(a)',year:'1989',yrx:857,bathy:bathyA,cont:contA,upLon:gridLonA,upEdge:gridEdgeA,upGrid:salA,cmap:jet,filt:'blurS',extTop:true,loBase:34.95}));
panel(Object.assign({},R,row1,{name:'b',tag:'(b)',year:'1992',yrx:1852,bathy:bathyB,cont:contB,upLon:gridLonB,upEdge:gridEdgeB,upGrid:salB,cmap:jet,filt:'blurS',extTop:true,loBase:35.04}));
panel(Object.assign({},L,row2,{name:'c',tag:'(c)',year:'2013',yrx:857,bathy:bathyC,cont:contC,upLon:gridLonA,upEdge:gridEdgeA,upGrid:salC,cmap:jet,filt:'blurS',extTop:true,loBase:34.95}));
panel(Object.assign({},RD,row2,{name:'d',tag:'(d)',year:'2015',yrx:1834,bathy:bathyD,cont:contD,upLon:gridLonB,upEdge:gridEdgeB,upGrid:salD,cmap:jet,filt:'blurS',extTop:true,loBase:35.04}));
panel(Object.assign({},L,row3,{name:'e',tag:'(e)',year:'2013-1989',yrx:861,bathy:bathyA,cont:contE,upLon:diffLonE,upEdge:diffEdgeUp,upGrid:diffUpE,loLon:diffLonE,loEdge:diffEdgeLo,loGrid:diffLoE,cmap:bwr,filt:'blurD',extTop:false}));
panel(Object.assign({},R,row3,{name:'f',tag:'(f)',year:'2015-1992',yrx:1850,bathy:bathyF,cont:contF,upLon:diffLonF,upEdge:diffEdgeUp,upGrid:diffUpF,loLon:diffLonF,loEdge:diffEdgeLo,loGrid:diffLoF,cmap:bwr,filt:'blurD',extTop:false}));

function colorbar(name,x,w,y0,y1,lo,hi,fn,ticks,labels,lx){
  const g=el('g',{});
  
  
  const n=70,h=(y1-y0)/n;
  for(let i=0;i<n;i++){
    const v=hi-(i+0.5)/n*(hi-lo);
    el('rect',{x:x,y:y0+i*h-0.3,width:w,height:h+0.6,fill:fn(v)},g);
  }
  el('rect',{x:x,y:y0,width:w,height:y1-y0,fill:'none',stroke:'#3a3a3a','stroke-width':1.3},g);
  ticks.forEach((v,i)=>{
    const y=y1-(v-lo)/(hi-lo)*(y1-y0);
    el('line',{x1:x+w,y1:y,x2:x+w-6,y2:y,stroke:'#3a3a3a','stroke-width':1.2},g);
    const t=el('text',{x:lx,y:y+11,'font-size':32},g);
    t.textContent=labels[i];
    
    
  });
}
colorbar('colorbar-salinity-row1',1928,43,52,594,34,37.5,jet,cbSalTicks,cbSalLabels,1984);
colorbar('colorbar-salinity-row2',1939,42,740,1283,34,37.5,jet,cbSalTicks,cbSalLabels,1994);
colorbar('colorbar-difference',1939,42,1429,1972,-0.1,0.1,bwr,cbDiffTicks,cbDiffLabels,1994);
</script>
</body></html>
